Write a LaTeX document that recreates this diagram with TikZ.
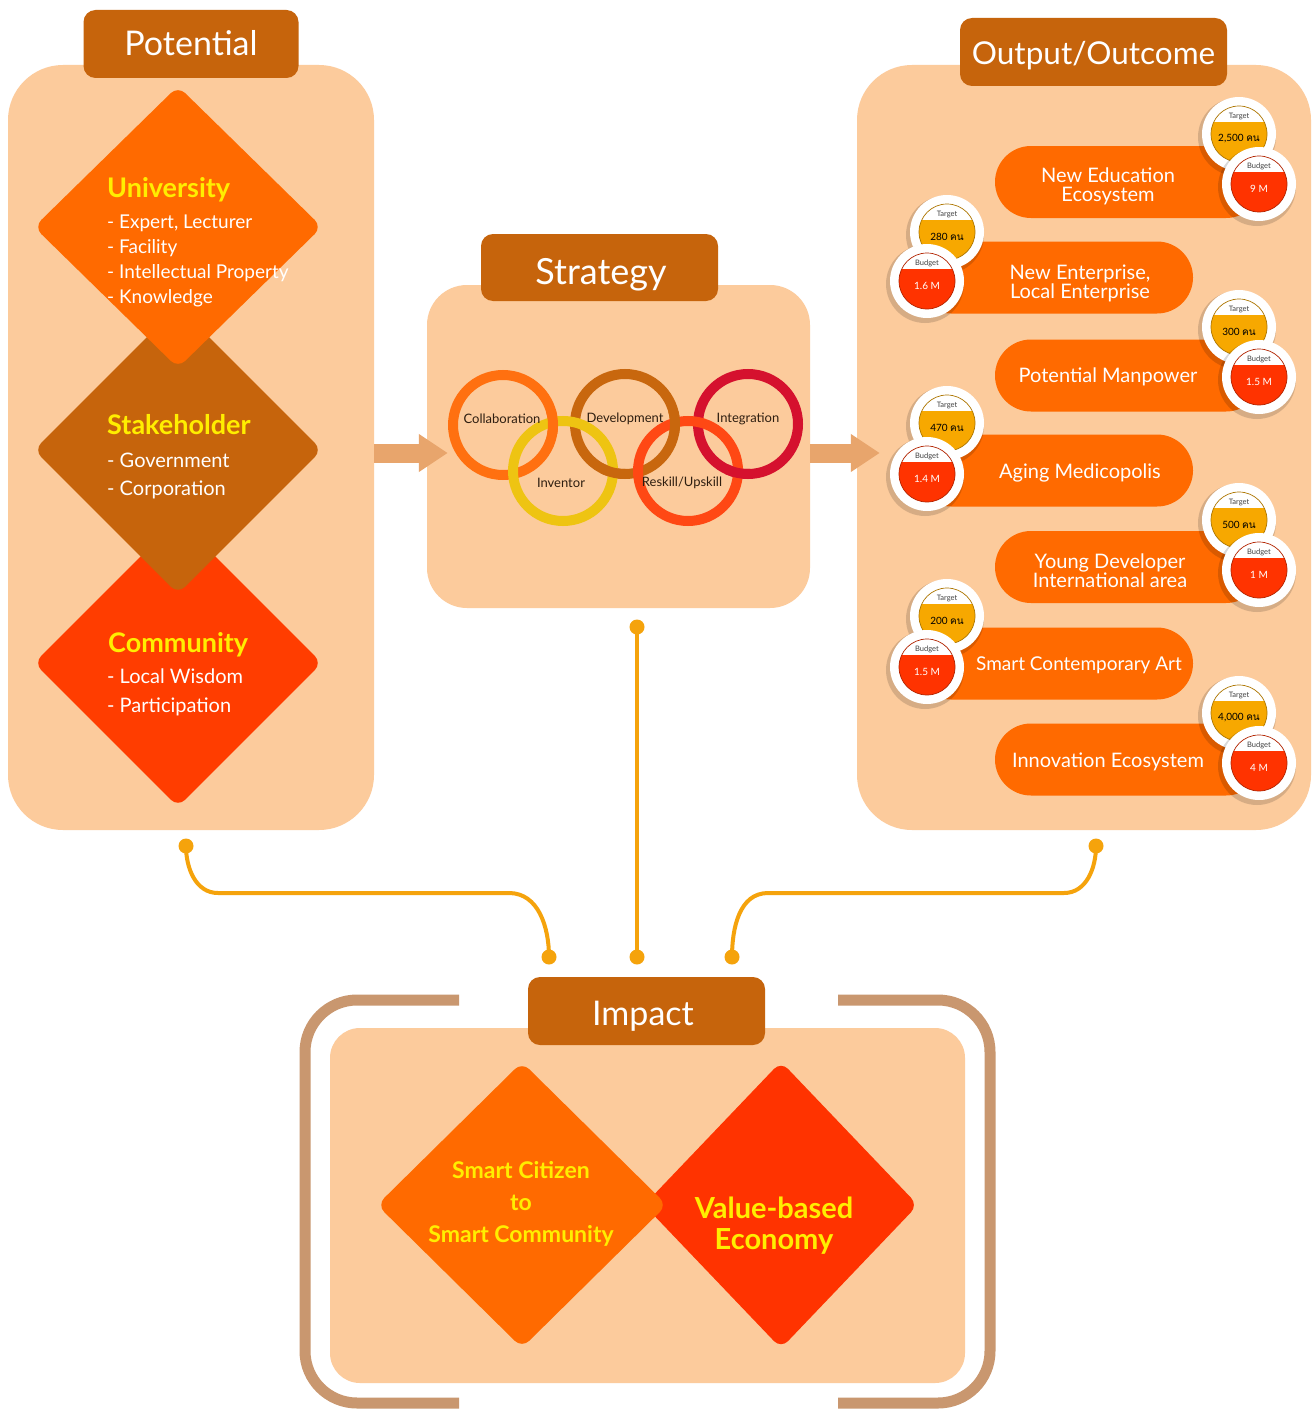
\documentclass[tikz,border=0pt]{standalone}
\usepackage{fontspec}
\setmainfont{Lato}
\newfontfamily\thaifont[Script=Thai]{Loma}
\usetikzlibrary{shapes.geometric,arrows.meta,calc}
\definecolor{peach}{HTML}{FCCB9C}
\definecolor{tabbrown}{HTML}{C6640C}
\definecolor{orng}{HTML}{FF6A00}
\definecolor{redor}{HTML}{FF3D00}
\definecolor{valred}{HTML}{FF3300}
\definecolor{yel}{HTML}{FFEE00}
\definecolor{arrowc}{HTML}{E8A56C}
\definecolor{conn}{HTML}{F5A30C}
\definecolor{brk}{HTML}{C9976F}
\definecolor{rcollab}{HTML}{FF7010}
\definecolor{rdev}{HTML}{C8670E}
\definecolor{rint}{HTML}{D5112E}
\definecolor{rinv}{HTML}{EEC412}
\definecolor{rres}{HTML}{FF4814}
\definecolor{tgt}{HTML}{F7A800}
\definecolor{bdg}{HTML}{FF3300}
\definecolor{darktxt}{HTML}{2E1E10}

\newcommand{\mybadge}[7]{%
  \fill[black, opacity=0.15] ({#2-2},{#3+3}) circle (39pt);
  \node[circle, fill=white, minimum size=74pt, inner sep=0pt] (#1) at (#2,#3) {};
  \begin{scope}
    \clip (#1.center) circle (28pt);
    \fill[#6] ($(#1.center)+(-30,-12)$) rectangle ($(#1.center)+(30,30)$);
  \end{scope}
  \draw[line width=0.7pt, #6!70!black] (#1.center) circle (28pt);
  \node[font=\fontsize{7.5}{8}\selectfont, text=black!75, inner sep=0pt] (#1l) at ($(#1.center)+(0,-18)$) {#4};
  \node[font=\fontsize{10}{10}\selectfont, text=#7, inner sep=0pt] (#1v) at ($(#1.center)+(0,5)$) {#5};
}

\begin{document}
\begin{tikzpicture}[x=1pt,y=-1pt,
  panel/.style={fill=peach, rounded corners=55pt, inner sep=0pt, draw=none},
  tabbox/.style={fill=tabbrown, rounded corners=12pt, inner sep=0pt},
  tabtext/.style={text=white, anchor=base, inner sep=0pt, font=\fontsize{34}{34}\selectfont},
  dia/.style={diamond, minimum width=288pt, minimum height=288pt, inner sep=0pt, rounded corners=10pt},
  dtitle/.style={text=yel, anchor=base west, inner sep=0pt, font=\fontsize{27}{27}\selectfont\bfseries},
  ditem/.style={text=white, anchor=base west, inner sep=0pt, font=\fontsize{19}{19}\selectfont},
  pill/.style={fill=orng, rounded corners=36pt, minimum height=72pt, inner sep=0pt},
  pilltext/.style={text=white, align=center, inner sep=0pt, font=\fontsize{20}{19}\selectfont},
  ring/.style={circle, line width=10pt, minimum size=100pt, inner sep=0pt},
  ringtext/.style={text=darktxt, inner sep=0pt, font=\fontsize{13}{13}\selectfont},
  dot/.style={circle, fill=conn, minimum size=15pt, inner sep=0pt},
  connl/.style={draw=conn, line width=4pt},
  bigarrow/.style={draw=arrowc, line width=19pt, -{Triangle[length=29pt,width=36pt]}},
  bracket/.style={draw=brk, line width=11pt, rounded corners=52pt},
  imptext/.style={text=yel, inner sep=0pt, anchor=base, font=\bfseries}
]
\useasboundingbox (0,0) rectangle (1313,1410);
\fill[white] (0,0) rectangle (1313,1410);

% ---------- panels ----------
\node[panel, minimum width=366pt, minimum height=765pt] (pot) at (191,447.5) {};
\node[panel, rounded corners=40pt, minimum width=383pt, minimum height=323pt] (strat) at (618.5,446.5) {};
\node[panel, minimum width=454pt, minimum height=765pt] (outp) at (1084,447.5) {};
\node[panel, rounded corners=30pt, minimum width=635pt, minimum height=355pt] (imp) at (647.5,1205.5) {};

% impact brackets
\draw[bracket] (459,1000) -- (305,1000) -- (305,1403) -- (459,1403);
\draw[bracket] (838,1000) -- (990,1000) -- (990,1403) -- (838,1403);

% ---------- tabs ----------
\node[tabbox, minimum width=215pt, minimum height=68pt] (tpot) at (191,44) {};
\node[tabtext] (tpotl) at (191,56) {Potential};
\node[tabbox, minimum width=237pt, minimum height=67pt] (tstrat) at (599.5,267.5) {};
\node[tabtext, font=\fontsize{36}{36}\selectfont] (tstratl) at (601,284) {Strategy};
\node[tabbox, minimum width=267pt, minimum height=68pt] (toutp) at (1093.5,52) {};
\node[tabtext, font=\fontsize{31.5}{32}\selectfont] (toutpl) at (1093.5,65) {Output/Outcome};
\node[tabbox, minimum width=237pt, minimum height=68pt] (timp) at (646.5,1011) {};
\node[tabtext] (timpl) at (643,1025) {Impact};

% ---------- potential diamonds ----------
\node[dia, fill=redor] (dcom) at (178,663) {};
\node[dia, fill=tabbrown] (dstk) at (178,450) {};
\node[dia, fill=orng, minimum height=282pt] (duni) at (178,227) {};

\node[dtitle] (uni) at (107,197) {University};
\node[ditem] (uni1) at (107,228) {- Expert, Lecturer};
\node[ditem] (uni2) at (107,253) {- Facility};
\node[ditem] (uni3) at (107,278) {- Intellectual Property};
\node[ditem] (uni4) at (107,303) {- Knowledge};

\node[dtitle] (stk) at (107,434) {Stakeholder};
\node[ditem, font=\fontsize{20}{20}\selectfont] (stk1) at (107,467) {- Government};
\node[ditem, font=\fontsize{20}{20}\selectfont] (stk2) at (107,495) {- Corporation};

\node[dtitle] (com) at (108,652) {Community};
\node[ditem, font=\fontsize{20}{20}\selectfont] (com1) at (107,683) {- Local Wisdom};
\node[ditem, font=\fontsize{20}{20}\selectfont] (com2) at (107,712) {- Participation};

% ---------- arrows between panels ----------
\draw[bigarrow] ([yshift=-5.5pt]pot.east) -- ([xshift=21pt,yshift=-6.5pt]strat.west);
\draw[bigarrow] ([yshift=-6.5pt]strat.east) -- ([xshift=23pt,yshift=-5.5pt]outp.west);

% ---------- strategy rings (interlocked) ----------
\node[ring, draw=rcollab] (rc) at (503,425) {};
\node[ring, draw=rdev] (rd) at (625,424) {};
\node[ring, draw=rint] (ri) at (748,424) {};
\node[ring, draw=rinv] (rv) at (563,471) {};
\node[ring, draw=rres] (rr) at (688,471) {};
\begin{scope}
  \clip (553,422) circle (13pt);
  \draw[rcollab, line width=10pt] (rc.center) circle (50pt);
\end{scope}
\begin{scope}
  \clip (613,472) circle (13pt);
  \draw[rdev, line width=10pt] (rd.center) circle (50pt);
\end{scope}
\begin{scope}
  \clip (675,423) circle (13pt);
  \draw[rdev, line width=10pt] (rd.center) circle (50pt);
\end{scope}
\begin{scope}
  \clip (738,473) circle (13pt);
  \draw[rint, line width=10pt] (ri.center) circle (50pt);
\end{scope}
\node[ringtext] (rcl) at (502,419) {Collaboration};
\node[ringtext] (rdl) at (625,419) {Development};
\node[ringtext] (ril) at (748,419) {Integration};
\node[ringtext] (rvl) at (561,483) {Inventor};
\node[ringtext] (rrl) at (682,483) {Reskill/Upskill};

% ---------- output pills ----------
\node[pill, minimum width=267pt] (p1) at (1128.5,182) {};
\node[pill, minimum width=278pt] (p2) at (1054,277.5) {};
\node[pill, minimum width=267pt] (p3) at (1128.5,375.5) {};
\node[pill, minimum width=278pt] (p4) at (1054,470.5) {};
\node[pill, minimum width=267pt] (p5) at (1128.5,567) {};
\node[pill, minimum width=278pt] (p6) at (1054,663.5) {};
\node[pill, minimum width=267pt] (p7) at (1128.5,759.5) {};

\node[pilltext] (p1t) at (1108,186) {New Education\\Ecosystem};
\node[pilltext] (p2t) at (1080,283) {New Enterprise,\\Local Enterprise};
\node[pilltext] (p3t) at (1108,377) {Potential Manpower};
\node[pilltext] (p4t) at (1080,473) {Aging Medicopolis};
\node[pilltext] (p5t) at (1110,571) {Young Developer\\International area};
\node[pilltext, font=\fontsize{19}{19}\selectfont] (p6t) at (1079,665) {Smart Contemporary Art};
\node[pilltext] (p7t) at (1108,762) {Innovation Ecosystem};

% ---------- badges ----------
\mybadge{t1}{1239}{134}{Target}{2,500 {\thaifont คน}}{tgt}{black}
\mybadge{b1}{1259}{184}{Budget}{9 M}{bdg}{white}
\mybadge{t2}{947}{232}{Target}{280 {\thaifont คน}}{tgt}{black}
\mybadge{b2}{927}{281}{Budget}{1.6 M}{bdg}{white}
\mybadge{t3}{1239}{327}{Target}{300 {\thaifont คน}}{tgt}{black}
\mybadge{b3}{1259}{377}{Budget}{1.5 M}{bdg}{white}
\mybadge{t4}{947}{423}{Target}{470 {\thaifont คน}}{tgt}{black}
\mybadge{b4}{927}{474}{Budget}{1.4 M}{bdg}{white}
\mybadge{t5}{1239}{520}{Target}{500 {\thaifont คน}}{tgt}{black}
\mybadge{b5}{1259}{570}{Budget}{1 M}{bdg}{white}
\mybadge{t6}{947}{616}{Target}{200 {\thaifont คน}}{tgt}{black}
\mybadge{b6}{927}{667}{Budget}{1.5 M}{bdg}{white}
\mybadge{t7}{1239}{713}{Target}{4,000 {\thaifont คน}}{tgt}{black}
\mybadge{b7}{1259}{763}{Budget}{4 M}{bdg}{white}

% ---------- impact diamonds ----------
\node[dia, fill=valred, minimum width=274pt, minimum height=287pt] (dval) at (781,1205) {};
\node[dia, fill=orng, minimum width=290pt, minimum height=286pt] (dsmart) at (522,1205) {};
\node[imptext, font=\fontsize{23}{23}\selectfont\bfseries] (s1) at (521,1178) {Smart Citizen};
\node[imptext, font=\fontsize{23}{23}\selectfont\bfseries] (s2) at (521,1210) {to};
\node[imptext, font=\fontsize{23}{23}\selectfont\bfseries] (s3) at (521,1242) {Smart Community};
\node[imptext, font=\fontsize{29}{29}\selectfont\bfseries] (v1) at (774,1218) {Value-based};
\node[imptext, font=\fontsize{29}{29}\selectfont\bfseries] (v2) at (774,1249) {Economy};

% ---------- connectors ----------
\node[dot] (dL) at (186,846) {};
\node[dot] (dC) at (637,627) {};
\node[dot] (dR) at (1096,846) {};
\node[dot] (dLb) at (549,957) {};
\node[dot] (dCb) at (637,957) {};
\node[dot] (dRb) at (732,957) {};
\draw[connl] (dL.center) to[out=-90,in=180] (218,893) -- (509,893) to[out=0,in=90] (dLb.center);
\draw[connl] (dC.center) -- (dCb.center);
\draw[connl] (dR.center) to[out=-90,in=0] (1064,893) -- (768,893) to[out=180,in=90] (dRb.center);
\end{tikzpicture}
\end{document}
